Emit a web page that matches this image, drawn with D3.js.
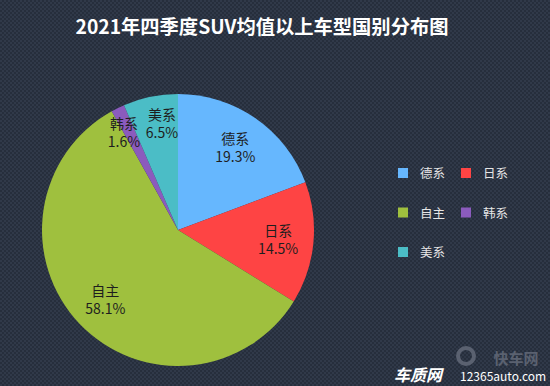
<!DOCTYPE html>
<html>
<head>
<meta charset="utf-8">
<script src="https://d3js.org/d3.v7.min.js"></script>
<style>
  body { margin: 0; background: #272f3d; }
  svg { display: block; font-family: "Noto Sans CJK SC", "Noto Sans", sans-serif; }
</style>
</head>
<body>
<div class="canvas"></div>
<script>
const W = 550, H = 386;
const categories = ['德系', '日系', '自主', '韩系', '美系'];
const values = [19.3, 14.5, 58.1, 1.6, 6.5];
const colors = ['#66b7fe', '#fe4444', '#9fc03e', '#8b5bbd', '#4bbdc6'];
const title = '2021年四季度SUV均值以上车型国别分布图';

const svg = d3.select('.canvas').append('svg')
  .attr('width', W).attr('height', H);

// textured background
const defs = svg.append('defs');
const pat = defs.append('pattern').attr('id', 'bg')
  .attr('width', 4).attr('height', 4).attr('patternUnits', 'userSpaceOnUse');
pat.append('rect').attr('width', 4).attr('height', 4).attr('fill', '#262e3c');
pat.append('rect').attr('x', 0).attr('y', 0).attr('width', 2).attr('height', 2).attr('fill', '#303949');
pat.append('rect').attr('x', 2).attr('y', 2).attr('width', 2).attr('height', 2).attr('fill', '#303949');
svg.append('rect').attr('width', W).attr('height', H).attr('fill', 'url(#bg)');

svg.append('text')
  .attr('x', 262).attr('y', 34)
  .attr('text-anchor', 'middle')
  .attr('fill', '#ffffff')
  .attr('font-size', 19.3).attr('font-weight', 'bold')
  .text(title);

const data = categories.map((c, i) => ({ name: c, value: values[i], color: colors[i] }));
const cx = 178, cy = 230, r = 136;

const pie = d3.pie().value(d => d.value).sort(null);
const arc = d3.arc().innerRadius(0).outerRadius(r);

const g = svg.append('g').attr('transform', `translate(${cx},${cy})`);
const arcs = pie(data);

g.selectAll('path').data(arcs).enter().append('path')
  .attr('d', arc)
  .attr('fill', d => d.data.color);

// label positions: big slices at 0.74r, thin ones pushed out a bit
arcs.forEach(d => {
  const rr = d.data.value < 10 ? r * 0.8 : r * 0.74;
  const a = (d.startAngle + d.endAngle) / 2;
  d.lx = rr * Math.sin(a);
  d.ly = -rr * Math.cos(a);
});
// spread neighbouring thin labels so they don't collide
for (let i = 1; i < arcs.length; i++) {
  const p = arcs[i - 1], q = arcs[i];
  if (p.data.value < 10 && q.data.value < 10 && Math.abs(p.lx - q.lx) < 38) {
    const push = (38 - Math.abs(p.lx - q.lx)) / 2;
    const s = p.lx < q.lx ? 1 : -1;
    p.lx -= s * push; q.lx += s * push;
  }
}

const lbl = g.selectAll('.lbl').data(arcs).enter().append('text')
  .attr('class', 'lbl')
  .attr('transform', d => `translate(${d.lx},${d.ly})`)
  .attr('text-anchor', 'middle')
  .attr('fill', '#1e1e1e')
  .attr('font-size', 14);
lbl.append('tspan').attr('x', 0).attr('dy', '-0.25em').text(d => d.data.name);
lbl.append('tspan').attr('x', 0).attr('dy', '1.3em').text(d => d.data.value.toFixed(1) + '%');

// legend, two columns
const lg = svg.append('g').attr('transform', 'translate(398,168)');
const item = lg.selectAll('g').data(data).enter().append('g')
  .attr('transform', (d, i) => `translate(${(i % 2) * 63},${Math.floor(i / 2) * 39.5})`);
item.append('rect').attr('width', 10).attr('height', 10).attr('fill', d => d.color);
item.append('text').attr('x', 22).attr('y', 10)
  .attr('fill', '#e6e6e6').attr('font-size', 12.5)
  .text(d => d.name);

// watermark
const wm = svg.append('g');
wm.append('text').attr('x', 516).attr('y', 364)
  .attr('text-anchor', 'middle')
  .attr('fill', '#5a6170').attr('font-size', 15).attr('font-weight', 'bold')
  .text('快车网');
wm.append('circle').attr('cx', 466).attr('cy', 356).attr('r', 8)
  .attr('fill', 'none').attr('stroke', '#5a6170').attr('stroke-width', 4);
wm.append('text').attr('x', 394).attr('y', 381)
  .attr('fill', '#ffffff').attr('font-size', 16).attr('font-weight', 'bold')
  .attr('font-style', 'italic')
  .text('车质网');
wm.append('text').attr('x', 460).attr('y', 381)
  .attr('fill', '#ffffff').attr('font-size', 12)
  .text('12365auto.com');
</script>
</body>
</html>
